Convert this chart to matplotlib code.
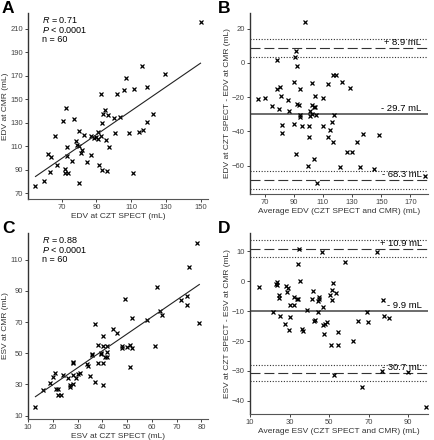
import numpy as np
import matplotlib.pyplot as plt

plt.rcParams['font.family'] = ['Liberation Sans', 'DejaVu Sans']
plt.rcParams['mathtext.fontset'] = 'custom'
plt.rcParams['mathtext.rm'] = 'Liberation Sans'
plt.rcParams['mathtext.it'] = 'Liberation Sans:italic'

# panel A: EDV CZT SPECT vs CMR
edv_spect = [149.7, 116, 129.6, 106.8, 118.9, 111.8, 106, 101.8, 92.8, 72.3, 95, 122.7, 96.8, 93.9,
             103.7, 99.9, 77.1, 70.8, 118.9, 93, 79.8, 66, 83, 78, 89.7, 90.9, 92.6, 87.1, 88.6, 91.1,
             100.8, 108.9, 114.4, 116.9, 95.7, 97, 79, 80, 72.9, 81.1, 81.9, 86.9, 62.1, 64.1, 73.3,
             75.9, 84.8, 67.3, 91.6, 72.1, 93, 96.1, 63.1, 72.1, 73.8, 110.8, 60, 80, 55]
edv_cmr = [216, 178, 172, 168, 160.3, 158.4, 157.8, 154.4, 154.4, 142.4, 141.3, 137.9, 136.2, 137.6,
           134.8, 134.2, 133.6, 131.4, 130.5, 129.7, 123.4, 118.9, 119.4, 114.6, 118, 122, 118.6, 118.3,
           116.6, 116.3, 121.7, 121.1, 122, 124, 115.5, 109.2, 110.9, 110.6, 109.2, 103.8, 106.6, 102.7,
           103.2, 100.4, 101.8, 97.3, 96.4, 93.9, 93.9, 90.7, 89.6, 89, 88.2, 87, 87.5, 87, 80.5, 78.5, 76]
edv_fit = (1.02, 28.1)  # slope, intercept

# panel B: Bland-Altman EDV
edv_avg = [97.9, 91.7, 90.5, 78.8, 92.1, 116.8, 119.1, 123, 90.3, 102.3, 113.5, 128.8, 78.8, 80.9, 94,
           65.4, 70, 81.3, 104.6, 110.1, 86.1, 75.1, 79.9, 92.4, 93.8, 102.3, 103.6, 104.8, 86.6, 101.1,
           102.7, 105, 94.2, 94.4, 101.3, 117.7, 81.8, 90.3, 95.6, 100.2, 109.9, 115.9, 114.7, 137.5,
           148.3, 82.2, 100.2, 113.8, 116.6, 133.4, 91.7, 126.2, 130.1, 103.9, 99.9, 121.8, 135.7, 144.7,
           105.7, 179.9]
edv_diff = [24, 7, 3.7, 1.8, -1.8, -6.8, -6.8, -11.1, -11.3, -11.7, -12.1, -14.8, -15, -13.9, -15.4,
            -20.9, -20.5, -19.1, -19.3, -20.5, -21.5, -25.2, -26.7, -24, -24.8, -24.8, -25.6, -25.6,
            -28.3, -28.1, -29.7, -30.2, -30.6, -31.6, -31.2, -30.4, -36.1, -35.9, -36.7, -36.7, -36.7,
            -34.5, -39, -41.4, -42, -41.2, -43.1, -43.3, -46.2, -46.4, -53.1, -52.1, -51.9, -56, -60.1,
            -61.1, -60.9, -62.2, -70.2, -66.1]
edv_mean, edv_upper, edv_lower = -29.7, 8.9, -68.3
edv_ci = 5.2

# panel C: ESV CZT SPECT vs CMR
esv_spect = [13, 16.1, 19, 20.1, 21, 21.3, 22.2, 22.1, 23.2, 24, 26.3, 27.1, 27.1, 28, 28, 28, 28.2,
             29.2, 30.2, 31, 33.8, 34.1, 35, 36, 36, 37, 37.2, 38.3, 38.3, 40.1, 40.1, 40.1, 40.1, 39.3,
             41.1, 42, 42, 42, 44.2, 46.1, 48.1, 48.1, 50, 51, 52, 51.2, 49, 52, 58.2, 61.1, 62.2, 63.2,
             64.1, 71.9, 74.2, 74.2, 75.1, 78.2, 79.2, 39.5]
esv_cmr = [15.3, 26.7, 30.7, 34.6, 37.6, 26.9, 26.9, 23.5, 23.5, 36.1, 33.9, 28.6, 29.9, 36.3, 44.6,
           43.8, 30.3, 34.4, 36.7, 37.6, 43.1, 41.6, 35.2, 49.1, 49.8, 31.6, 68.5, 44, 55.5, 54.4, 61.3,
           43.5, 29.4, 49.5, 47.4, 47.4, 54.7, 50.8, 65.3, 63.2, 54.4, 53.4, 53.8, 55, 53.2, 41.5, 84.6,
           72.3, 71.5, 54.7, 92.2, 76.9, 74.3, 84.4, 86.5, 80.7, 105.1, 120.3, 69.2, 50.2]
esv_fit = (1.085, 8.1)

# panel D: Bland-Altman ESV
esv_avg = [34.7, 46.3, 74, 57.8, 34.4, 14.4, 23.5, 23.2, 23.5, 28.1, 29.1, 28.6, 35.3, 24.8, 24.5, 32,
           33.7, 34.2, 30.3, 32, 52.2, 51.6, 53.3, 50.6, 51.3, 44.8, 44.8, 44.3, 41.9, 41.1, 38.8, 46.7,
           21.6, 25, 30.1, 27.6, 29.5, 36.1, 36.6, 42.8, 42.6, 44.6, 47, 47.7, 49.1, 47.4, 50.8, 54.7,
           54.7, 62, 64.8, 69.9, 69.2, 77.2, 77.6, 80.1, 76.7, 90, 52.5, 66.5, 98.9]
esv_diff = [10.6, 9.7, 9.8, 6.4, 5.6, -2.1, -0.3, -1.0, -1.4, -1.6, -2.3, -3.5, -0.1, -4.5, -5.7, -5.2,
            -6.1, -6.1, -7.9, -8.1, -0.7, -3, -3.9, -4.7, -6.4, -5.2, -6.1, -6.5, -3.3, -5.8, -9.5, -8.7,
            -10.3, -11.5, -11.9, -14.4, -16.3, -16, -16.7, -12.9, -13.4, -10.4, -14.6, -14.2, -13.5,
            -17.6, -21.4, -17.1, -21.2, -20.1, -13.4, -13.7, -10.3, -6.4, -11.7, -12.3, -30.1, -30.4,
            -31.5, -35.4, -42.1]
esv_mean, esv_upper, esv_lower = -9.9, 10.9, -30.7
esv_ci = 2.8

W, H = 434, 440
fig = plt.figure(figsize=(W / 100, H / 100), dpi=100)


def make_ax(left, right, top, bottom):
    ax = fig.add_axes([left / W, 1 - bottom / H, (right - left) / W, (bottom - top) / H])
    for s in ['top', 'right']:
        ax.spines[s].set_visible(False)
    ax.spines['left'].set_color('#333333')
    ax.spines['bottom'].set_color('#555555')
    ax.spines['left'].set_linewidth(1.0)
    ax.spines['bottom'].set_linewidth(0.8)
    ax.tick_params(labelsize=5.5, length=2.5, width=0.7, colors='#444444', pad=1.2)
    return ax


def scatter_panel(ax, x, y, fit, r_text):
    ax.plot(x, y, 'x', color='black', ms=2.6, mew=0.9)
    xs = np.array([min(x), max(x)])
    ax.plot(xs, fit[0] * xs + fit[1], color='#222222', lw=0.8)
    ax.text(0.08, 0.99, r'$\it{R}$ = ' + r_text, transform=ax.transAxes, fontsize=6.5, va='top')
    ax.text(0.08, 0.935, r'$\it{P}$ < 0.0001', transform=ax.transAxes, fontsize=6.5, va='top')
    ax.text(0.08, 0.88, 'n = 60', transform=ax.transAxes, fontsize=6.5, va='top')


def ba_panel(ax, x, y, mean, upper, lower, ci, xr):
    for lim in (upper, lower):
        ax.axhline(lim, color='#333333', lw=0.8, dashes=(9, 3.5))
        ax.axhline(lim + ci, color='#333333', lw=0.8, ls=(0, (1, 1.5)))
        ax.axhline(lim - ci, color='#333333', lw=0.8, ls=(0, (1, 1.5)))
    ax.axhline(mean, color='#444444', lw=1.1)
    ax.plot(x, y, 'x', color='black', ms=2.6, mew=0.9)
    ax.text(xr, upper + 0.3, '+ %.1f mL' % upper, ha='right', va='bottom', fontsize=6.8)
    ax.text(xr, mean + 0.3, '- %.1f mL' % abs(mean), ha='right', va='bottom', fontsize=6.8)
    ax.text(xr, lower + 0.3, '- %.1f mL' % abs(lower), ha='right', va='bottom', fontsize=6.8)


lab = dict(fontsize=6, color='#333333')

# A
ax = make_ax(28, 208, 13, 199)
scatter_panel(ax, edv_spect, edv_cmr, edv_fit, '0.71')
ax.set_xlim(50.7, 154)
ax.set_ylim(65, 223.6)
ax.set_xticks(np.arange(70, 151, 20))
ax.set_yticks(np.arange(70, 211, 20))
ax.set_xlabel('EDV at CZT SPECT (mL)', labelpad=1, **lab)
ax.set_ylabel('EDV at CMR (mL)', labelpad=1, **lab)

# B
ax = make_ax(250, 428, 13, 194)
ba_panel(ax, edv_avg, edv_diff, edv_mean, edv_upper, edv_lower, edv_ci, 177.5)
ax.set_xlim(60, 182)
ax.set_ylim(-76.6, 29.2)
ax.set_xticks(np.arange(70, 171, 20))
ax.set_yticks(np.arange(-60, 21, 20))
ax.set_xlabel('Average EDV (CZT SPECT and CMR) (mL)', labelpad=1, **lab)
ax.set_ylabel('EDV at CZT SPECT - EDV at CMR (mL)', labelpad=1, **lab)

# C
ax = make_ax(28, 208, 233, 419)
scatter_panel(ax, esv_spect, esv_cmr, esv_fit, '0.88')
ax.set_xlim(10, 82.7)
ax.set_ylim(7.9, 127)
ax.set_xticks(np.arange(10, 81, 10))
ax.set_yticks(np.arange(10, 111, 20))
ax.set_xlabel('ESV at CZT SPECT (mL)', labelpad=1, **lab)
ax.set_ylabel('ESV at CMR (mL)', labelpad=1, **lab)

# D
ax = make_ax(250, 428, 233, 414)
ba_panel(ax, esv_avg, esv_diff, esv_mean, esv_upper, esv_lower, esv_ci, 97)
ax.set_xlim(10, 100)
ax.set_ylim(-44.4, 16.1)
ax.set_xticks(np.arange(10, 91, 20))
ax.set_yticks(np.arange(-40, 11, 10))
ax.set_xlabel('Average ESV (CZT SPECT and CMR) (mL)', labelpad=1, **lab)
ax.set_ylabel('ESV at CZT SPECT - ESV at CMR (mL)', labelpad=1, **lab)

for letter, px, py in [('A', 2, 1), ('B', 218, 1), ('C', 2, 221), ('D', 218, 221)]:
    fig.text(px / W, 1 - py / H, letter, fontsize=12.5, fontweight='bold', va='top')

fig.savefig('out.png', dpi=100)
